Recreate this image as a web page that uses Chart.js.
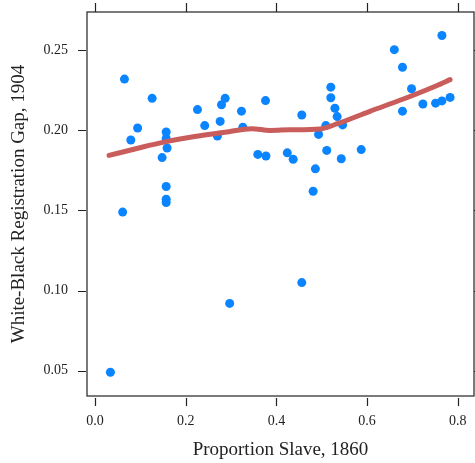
<!DOCTYPE html>
<html>
<head>
<meta charset="utf-8">
<script src="https://cdn.jsdelivr.net/npm/chart.js@4.4.1/dist/chart.umd.min.js"></script>
<style>
  html, body { margin: 0; padding: 0; background: #fff; }
  #wrap { width: 475px; height: 463px; }
</style>
</head>
<body>
<div id="wrap"><canvas id="scatterChart"></canvas></div>
<script>
// points
const propSlave = [0.034, 0.061, 0.065, 0.079, 0.094, 0.126, 0.148, 0.157, 0.157, 0.159, 0.157, 0.157, 0.157,
    0.226, 0.242, 0.270, 0.276, 0.279, 0.287, 0.297, 0.323, 0.326, 0.359, 0.376, 0.377,
    0.424, 0.437, 0.456, 0.456, 0.481, 0.486, 0.493, 0.509, 0.511, 0.520, 0.520, 0.529, 0.534, 0.543, 0.546, 0.587,
    0.660, 0.678, 0.678, 0.698, 0.723, 0.751, 0.765, 0.765, 0.783];
const regGap = [0.049, 0.149, 0.232, 0.194, 0.2015, 0.220, 0.183, 0.199, 0.195, 0.189, 0.165, 0.157, 0.155,
    0.213, 0.203, 0.1965, 0.2056, 0.216, 0.220, 0.092, 0.212, 0.202, 0.185, 0.2186, 0.184,
    0.186, 0.182, 0.2096, 0.105, 0.162, 0.176, 0.1975, 0.203, 0.1875, 0.227, 0.2204, 0.2138, 0.2086, 0.1823, 0.2034, 0.188,
    0.2504, 0.2394, 0.212, 0.226, 0.2165, 0.217, 0.2184, 0.2592, 0.2206];

// smoothed fit line
const fitX = [0.031, 0.088, 0.154, 0.220, 0.287, 0.345, 0.386, 0.430, 0.496, 0.533, 0.606, 0.680, 0.753, 0.783];
const fitY = [0.1844, 0.1884, 0.1928, 0.1962, 0.1988, 0.2011, 0.2000, 0.2004, 0.2009, 0.2040, 0.2119, 0.2196, 0.2279, 0.2317];

const xTicks = [0.0, 0.2, 0.4, 0.6, 0.8];
const yTicks = [0.05, 0.10, 0.15, 0.20, 0.25];

const serif = '"Liberation Serif", "DejaVu Serif", serif';
const ink = '#222';

// lattice style box with ticks on all four sides
const boxTicks = {
    id: 'boxTicks',
    afterDraw(chart) {
        const { ctx, chartArea: a, scales } = chart;
        const len = 8;
        ctx.save();
        ctx.strokeStyle = ink;
        ctx.lineWidth = 1.2;
        ctx.strokeRect(a.left, a.top, a.right - a.left, a.bottom - a.top);
        ctx.beginPath();
        xTicks.forEach(v => {
            const px = Math.round(scales.x.getPixelForValue(v)) + 0.5;
            ctx.moveTo(px, a.bottom + 2); ctx.lineTo(px, a.bottom + 2 + len);
            ctx.moveTo(px, a.top); ctx.lineTo(px, a.top - len - 1);
        });
        yTicks.forEach(v => {
            const py = Math.round(scales.y.getPixelForValue(v)) + 0.5;
            ctx.moveTo(a.left - 1, py); ctx.lineTo(a.left - 1 - len, py);
            ctx.moveTo(a.right, py); ctx.lineTo(a.right + len, py);
        });
        ctx.stroke();
        ctx.restore();
    }
};

new Chart(document.getElementById('scatterChart'), {
    type: 'scatter',
    data: {
        datasets: [
            {
                type: 'line',
                data: fitX.map((x, i) => ({ x: x, y: fitY[i] })),
                borderColor: '#c95d5b',
                borderWidth: 5,
                pointRadius: 0,
                tension: 0.4,
                cubicInterpolationMode: 'monotone',
                borderCapStyle: 'round',
                order: 1
            },
            {
                data: propSlave.map((x, i) => ({ x: x, y: regGap[i] })),
                backgroundColor: '#0a84ff',
                borderWidth: 0,
                pointRadius: 4.5,
                order: 2
            }
        ]
    },
    options: {
        responsive: true,
        maintainAspectRatio: false,
        animation: false,
        layout: { autoPadding: false, padding: { top: 12, right: 1, left: 0, bottom: 0 } },
        plugins: { legend: { display: false }, tooltip: { enabled: false } },
        scales: {
            x: {
                type: 'linear',
                min: -0.0176,
                max: 0.8357,
                afterBuildTicks: s => { s.ticks = xTicks.map(v => ({ value: v })); },
                afterFit: s => { s.height = 67; s.paddingLeft = 0; s.paddingRight = 0; },
                grid: { display: false },
                border: { display: false },
                ticks: {
                    padding: 9,
                    color: ink,
                    font: { family: serif, size: 14 },
                    callback: v => v.toFixed(1)
                },
                title: {
                    display: true,
                    text: 'Proportion Slave, 1860',
                    color: ink,
                    font: { family: serif, size: 19 },
                    padding: { top: 0, bottom: 2 }
                }
            },
            y: {
                type: 'linear',
                min: 0.0342,
                max: 0.2739,
                afterBuildTicks: s => { s.ticks = yTicks.map(v => ({ value: v })); },
                afterFit: s => { s.width = 87; s.paddingTop = 0; s.paddingBottom = 0; },
                grid: { display: false },
                border: { display: false },
                ticks: {
                    padding: 11,
                    color: ink,
                    font: { family: serif, size: 14 },
                    callback: v => v.toFixed(2)
                },
                title: {
                    display: true,
                    text: 'White-Black Registration Gap, 1904',
                    color: ink,
                    font: { family: serif, size: 19 },
                    padding: { top: 8, bottom: 0 }
                }
            }
        }
    },
    plugins: [boxTicks]
});
</script>
</body>
</html>
